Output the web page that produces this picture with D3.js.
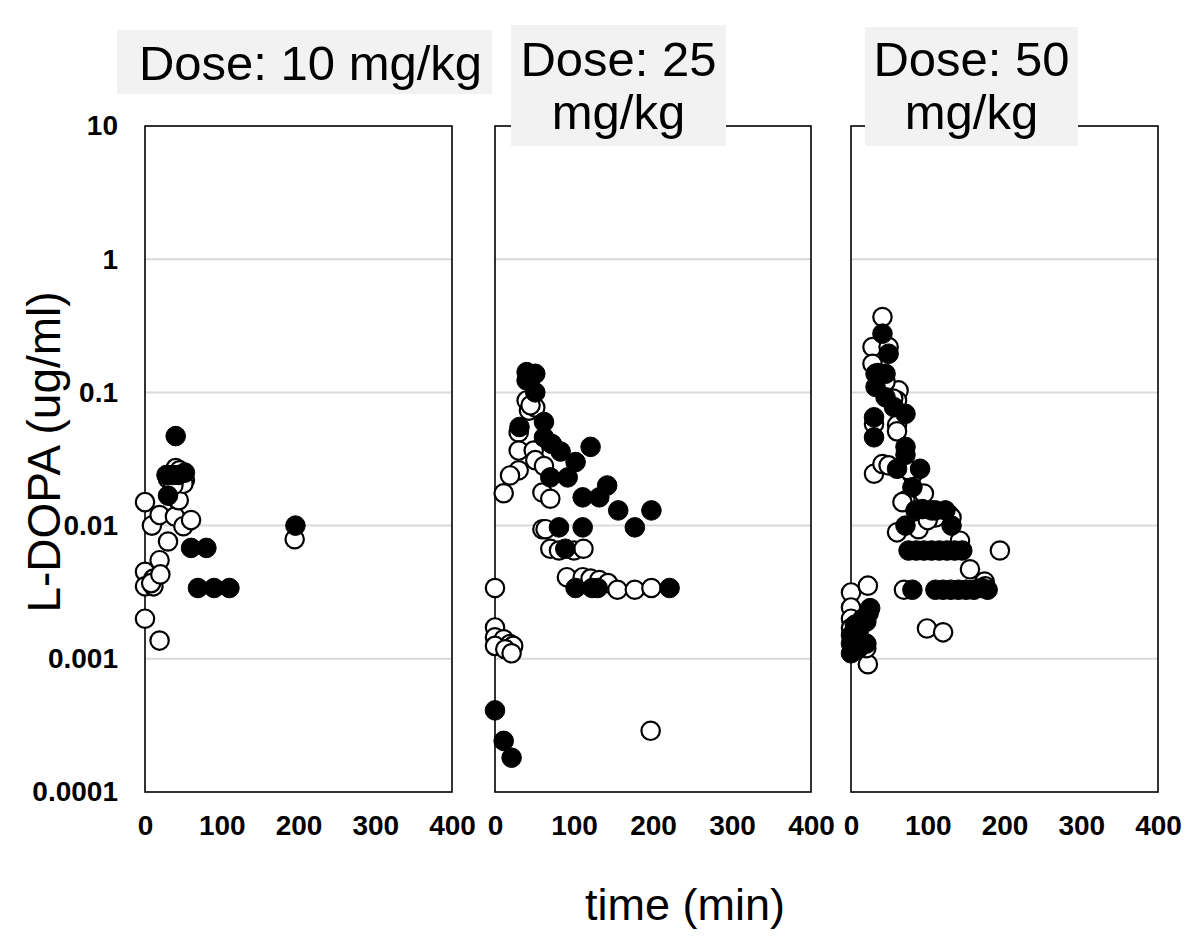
<!DOCTYPE html>
<html>
<head>
<meta charset="utf-8">
<script src="https://cdn.jsdelivr.net/npm/d3@7"></script>
<style>
  html, body { margin: 0; padding: 0; background: #fff; }
  svg { display: block; font-family: "Liberation Sans", Arial, sans-serif; }
</style>
</head>
<body>
<svg id="chart" width="1200" height="949"></svg>
<script>
// ---- data ----
const panelTitles = [["Dose: 10 mg/kg"], ["Dose: 25", "mg/kg"], ["Dose: 50", "mg/kg"]];
const yTicks = [0.0001, 0.001, 0.01, 0.1, 1, 10];
const yTickLabels = ["0.0001", "0.001", "0.01", "0.1", "1", "10"];
const xTicks = [0, 100, 200, 300, 400];
const xTickLabels = ["0", "100", "200", "300", "400"];
const yTitle = "L-DOPA (ug/ml)";
const xTitle = "time (min)";

// [time (min), L-DOPA (ug/ml)]
const dose10Open = [[0,0.015],[0,0.0045],[0,0.0035],[0,0.002],[9,0.010],[11,0.004],[11,0.0035],[8,0.0037],
  [19,0.012],[19,0.0055],[20,0.0043],[19,0.00137],[30,0.0076],[30,0.0225],[39,0.0117],[40,0.027],
  [41,0.0159],[44,0.0155],[45,0.026],[50,0.0099],[52,0.022],[50,0.0206],[60,0.011],[37,0.020],[195,0.0079]];
const dose10Filled = [[40,0.047],[28,0.024],[36,0.024],[44,0.024],[52,0.025],[30,0.0168],[60,0.0068],
  [80,0.0068],[69,0.0034],[90,0.0034],[110,0.0034],[196,0.010]];

const dose25Open = [[40,0.087],[43,0.073],[51,0.077],[45,0.080],[30,0.050],[30,0.0366],[49,0.0366],
  [51,0.031],[62,0.028],[30,0.026],[19,0.0238],[11,0.0175],[60,0.0177],[70,0.0159],[60,0.0094],
  [64,0.0094],[70,0.0067],[81,0.0065],[100,0.0065],[112,0.0067],[91,0.0041],[111,0.0041],[121,0.0040],
  [132,0.0039],[143,0.0037],[155,0.0033],[177,0.0033],[198,0.0034],[0,0.0034],[0,0.00172],[0,0.00145],
  [11,0.0014],[19,0.00129],[23,0.00125],[0,0.00125],[13,0.00118],[21,0.0011],[197,0.000288]];
const dose25Filled = [[40,0.142],[51,0.138],[40,0.123],[51,0.10],[31,0.055],[62,0.060],[62,0.046],
  [72,0.041],[83,0.036],[121,0.039],[102,0.030],[70,0.023],[92,0.023],[111,0.0163],[132,0.0163],
  [142,0.020],[156,0.013],[198,0.013],[177,0.0097],[81,0.0097],[111,0.0097],[89,0.0067],[102,0.0034],
  [123,0.0034],[130,0.0034],[221,0.0034],[0,0.00041],[11,0.000242],[21,0.000181]];

const dose50Open = [[41,0.368],[28,0.219],[49,0.219],[28,0.164],[62,0.1035],[60,0.087],[30,0.058],
  [60,0.057],[60,0.051],[30,0.0245],[41,0.029],[49,0.0283],[71,0.0154],[95,0.0174],[127,0.0122],
  [67,0.015],[60,0.0089],[88,0.0094],[131,0.0115],[142,0.0077],[155,0.0047],[194,0.0065],[69,0.0033],
  [174,0.0038],[99,0.00169],[120,0.00158],[0,0.00315],[22,0.00354],[0,0.00243],[22,0.00091],[0,0.0020],
  [0,0.0017],[10,0.0014],[20,0.0012],[175,0.0035],[110,0.0115],[100,0.011],[80,0.024],[75,0.026],
  [45,0.12],[35,0.14],[55,0.09]];
const dose50Filled = [[41,0.276],[49,0.195],[32,0.138],[45,0.138],[32,0.11],[45,0.092],[56,0.0775],
  [71,0.069],[30,0.065],[30,0.046],[71,0.039],[71,0.034],[90,0.0267],[60,0.0267],[80,0.0194],[93,0.0133],
  [110,0.013],[123,0.013],[84,0.013],[105,0.013],[71,0.010],[131,0.010],[75,0.0065],[85,0.0065],
  [95,0.0065],[105,0.0065],[115,0.0065],[125,0.0065],[135,0.0065],[145,0.0065],[80,0.0033],[110,0.0033],
  [120,0.0033],[130,0.0033],[140,0.0033],[150,0.0033],[160,0.0033],[170,0.0034],[178,0.0033],
  [0,0.0011],[0,0.0015],[5,0.0018],[10,0.0016],[15,0.0020],[20,0.0013],[25,0.0024],[23,0.0022],
  [20,0.0019],[10,0.0012],[0,0.0013]];

const panelData = [
  { open: dose10Open, filled: dose10Filled },
  { open: dose25Open, filled: dose25Filled },
  { open: dose50Open, filled: dose50Filled }
];

// ---- layout ----
const panels = [
  { x0: 145, x1: 452, box: [117, 30, 375, 64], lines: [80] },
  { x0: 495, x1: 811, box: [511, 25, 215, 121], lines: [76, 129] },
  { x0: 851, x1: 1158, box: [865, 27, 213, 119], lines: [76, 129] }
];
const yTop = 126, yBot = 792;
const svg = d3.select("#chart");
const y = d3.scaleLog().domain([0.0001, 10]).range([yBot, yTop]);

panels.forEach((p, i) => {
  const x = d3.scaleLinear().domain([0, 400]).range([p.x0, p.x1]);
  const g = svg.append("g");
  // gridlines
  g.selectAll("line.grid").data(yTicks.slice(1, -1)).join("line")
    .attr("x1", p.x0).attr("x2", p.x1)
    .attr("y1", d => y(d)).attr("y2", d => y(d))
    .attr("stroke", "#d9d9d9").attr("stroke-width", 2);
  // frame
  g.append("rect").attr("x", p.x0).attr("y", yTop)
    .attr("width", p.x1 - p.x0).attr("height", yBot - yTop)
    .attr("fill", "none").attr("stroke", "#000").attr("stroke-width", 1.6);
  // x axis
  const xa = g.append("g").attr("transform", `translate(0,${yBot})`)
    .call(d3.axisBottom(x).tickValues(xTicks).tickSize(0).tickPadding(23)
      .tickFormat((d, k) => xTickLabels[k]));
  xa.select(".domain").remove();
  xa.selectAll("text").attr("font-size", 28).attr("font-weight", "bold")
    .attr("fill", "#000").attr("font-family", "'Liberation Sans', Arial, sans-serif");
  // y axis labels only for first panel
  if (i === 0) {
    const ya = g.append("g").attr("transform", `translate(${p.x0},0)`)
      .call(d3.axisLeft(y).tickValues(yTicks).tickSize(0).tickPadding(27)
        .tickFormat((d, k) => yTickLabels[k]));
    ya.select(".domain").remove();
    ya.selectAll("text").attr("font-size", 28).attr("font-weight", "bold")
      .attr("fill", "#000").attr("font-family", "'Liberation Sans', Arial, sans-serif");
  }
  // points
  const d = panelData[i];
  g.selectAll("circle.open").data(d.open).join("circle")
    .attr("cx", v => x(v[0])).attr("cy", v => y(v[1])).attr("r", 9.2)
    .attr("fill", "#fff").attr("stroke", "#000").attr("stroke-width", 2.2);
  g.selectAll("circle.filled").data(d.filled).join("circle")
    .attr("cx", v => x(v[0])).attr("cy", v => y(v[1])).attr("r", 9.8)
    .attr("fill", "#000").attr("stroke", "#000").attr("stroke-width", 1);
  // title box
  g.append("rect").attr("x", p.box[0]).attr("y", p.box[1])
    .attr("width", p.box[2]).attr("height", p.box[3]).attr("fill", "#f2f2f2");
  panelTitles[i].forEach((t, k) => {
    g.append("text").attr("x", p.box[0] + p.box[2] / 2 + (i === 0 ? 6 : 0)).attr("y", p.lines[k])
      .attr("text-anchor", "middle").attr("font-size", 49).attr("fill", "#000").text(t);
  });
});

// axis titles
svg.append("text").attr("transform", "translate(60,452) rotate(-90)")
  .attr("text-anchor", "middle").attr("font-size", 46).attr("fill", "#000").text(yTitle);
svg.append("text").attr("x", 685).attr("y", 920)
  .attr("text-anchor", "middle").attr("font-size", 45).attr("fill", "#000").text(xTitle);
</script>
</body>
</html>
